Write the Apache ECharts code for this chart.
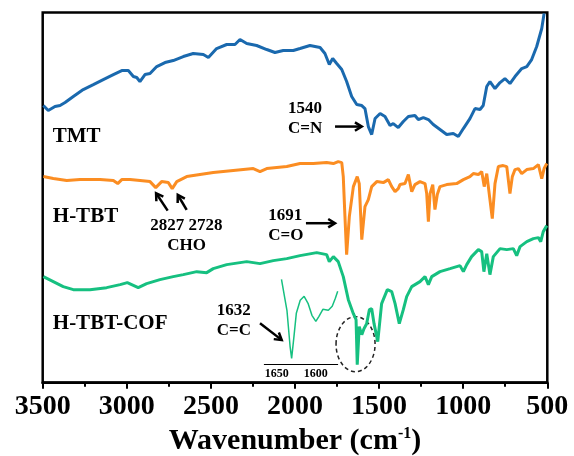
<!DOCTYPE html>
<html><head><meta charset="utf-8">
<script src="https://cdn.jsdelivr.net/npm/echarts@6/dist/echarts.min.js"></script>
<style>html,body{margin:0;padding:0;background:#fff}#c{width:574px;height:456px}</style>
</head><body><div id="c"></div>
<script>
// ---- data (wavenumber in cm-1, transmittance in arbitrary offset units) ----
const tmtWn = [3496,3467,3427,3397,3367,3318,3259,3199,3140,3080,3030,2991,2961,2941,2922,2892,2862,2822,2773,2724,2664,2605,2545,2515,2466,2406,2357,2327,2287,2228,2168,2119,2070,2010,1970,1911,1851,1822,1796,1776,1752,1722,1693,1663,1633,1603,1584,1564,1544,1524,1494,1465,1435,1416,1386,1356,1326,1287,1267,1237,1207,1178,1138,1098,1059,1029,999,960,930,900,881,860,841,811,781,752,722,692,652,622,593,563,533,519];
const tmtT  = [277,272,276,277,280,286,293,298,303,308,312,312,306,305,301,308,309,316,320,322,326,329,328,325,334,338,338,343,339,337,333,330,332,332,334,337,335,329,318,324,319,313,301,286,278,277,274,256,248,264,269,266,257,259,255,261,266,267,263,265,263,258,253,248,249,246,254,264,274,273,277,296,301,294,300,304,299,306,314,316,323,336,354,369];

const htbtWn = [3496,3437,3357,3278,3159,3080,3054,3030,2981,2921,2862,2828,2793,2753,2730,2703,2644,2565,2486,2367,2248,2208,2168,2049,1970,1891,1812,1772,1743,1722,1713,1703,1693,1677,1653,1630,1618,1603,1584,1564,1544,1514,1475,1445,1425,1405,1386,1376,1346,1326,1306,1287,1257,1227,1217,1207,1197,1181,1168,1154,1138,1098,1039,999,960,940,910,890,875,860,841,827,811,791,762,741,722,708,692,672,652,622,583,553,533,519,503];
const htbtT  = [206,204,202,203,203,202,199,203,203,202,201,195,201,200,194,201,206,208,210,212,214,211,214,216,219,219,220,219,221,220,206,166,128,166,196,206,199,143,176,183,196,201,200,203,196,191,194,198,199,208,191,198,201,199,189,161,189,198,173,188,196,198,199,203,206,209,208,211,196,209,183,164,199,216,217,216,189,206,213,214,209,213,214,218,204,214,219];

const cofWn = [3496,3437,3378,3318,3219,3120,3040,2997,2971,2932,2882,2803,2724,2664,2584,2525,2486,2406,2287,2208,2129,2049,1970,1871,1812,1796,1772,1743,1713,1683,1653,1637,1630,1618,1603,1590,1574,1558,1544,1530,1508,1485,1451,1425,1405,1380,1356,1336,1306,1257,1227,1207,1187,1138,1078,1019,999,979,950,910,890,877,860,841,821,781,741,702,682,662,622,583,553,539,524,503];
const cofT  = [106,101,96,93,93,95,98,100,98,95,99,103,106,108,111,110,114,118,121,119,122,124,127,130,128,121,126,121,106,83,69,63,18,56,48,54,59,73,74,59,41,79,93,91,79,59,73,86,96,101,106,98,106,111,114,117,111,118,126,133,131,111,129,108,126,134,133,134,127,136,141,144,145,141,151,157];

const insetWn = [1644,1637,1633,1631,1628,1625,1620,1615,1610,1605,1600,1596,1591,1584,1579,1575,1572];
const insetT  = [85,54,18,6,28,51,64,68,61,49,43,48,55,54,58,66,73];

const xTickLabels = [3500,3000,2500,2000,1500,1000,500];
const insetTickLabels = [1650,1600];
const seriesNames = ['TMT','H-TBT','H-TBT-COF'];

// annotation anchors in data coordinates [wavenumber, value]
const nameLabels = [
  {text:'TMT', at:[3440,246]},
  {text:'H-TBT', at:[3440,166]},
  {text:'H-TBT-COF', at:[3440,59]}
];
const peakTexts = [
  {text:'1540', at:[1940,274], align:'center'},
  {text:'C=N', at:[1940,254], align:'center'},
  {text:'2827 2728', at:[2646,157], align:'center'},
  {text:'CHO', at:[2644,137], align:'center'},
  {text:'1691', at:[2159,167], align:'left'},
  {text:'C=O', at:[2159,147], align:'left'},
  {text:'1632', at:[2465,72], align:'left'},
  {text:'C=C', at:[2465,52], align:'left'}
];
const arrows = [
  {from:[1762,256], to:[1603,256]},
  {from:[2757,172], to:[2826,189.4]},
  {from:[2644,172.7], to:[2697,187.7]},
  {from:[1935,159.4], to:[1762,159.4]},
  {from:[2208,59.4], to:[2079,42.7]}
];
const ellipseBox = {left:1756, right:1524, top:66, bottom:11};

const FONT = "'Liberation Serif','Times New Roman',serif";
const COLORS = ['#1a69ae','#fb8d22','#16c080'];

const chart = echarts.init(document.getElementById('c'), null, {renderer:'canvas'});
const pairs = (xs, ys) => xs.map((x,i)=>[x, ys[i]]);

const option = {
  animation:false,
  grid:[
    {left:42.7, top:12.5, right:26.7, bottom:73.3, show:true, borderColor:'#000', borderWidth:2.5, outerBoundsMode:'none', containLabel:false},
    {left:264.3, top:270, width:73.4, height:94.3, outerBoundsMode:'none', containLabel:false}
  ],
  xAxis:[
    {gridIndex:0, type:'value', inverse:true, min:500, max:3500, interval:500,
     axisLine:{show:true, onZero:false, lineStyle:{color:'#000', width:2.5}},
     axisTick:{show:true, length:6, lineStyle:{color:'#000', width:2}},
     minorTick:{show:true, splitNumber:2, length:4, lineStyle:{color:'#000', width:2}},
     splitLine:{show:false}, minorSplitLine:{show:false},
     axisLabel:{margin:10, color:'#000', fontFamily:FONT, fontWeight:'bold', fontSize:28,
       formatter: v => xTickLabels.indexOf(v) >= 0 ? String(v) : ''},
     name:'{a|Wavenumber (cm}{s|-1}{a|)}', nameLocation:'middle', nameGap:36,
     nameTextStyle:{rich:{
       a:{fontFamily:FONT, fontWeight:'bold', fontSize:30, color:'#000', lineHeight:32},
       s:{fontFamily:FONT, fontWeight:'bold', fontSize:16, color:'#000', lineHeight:16, verticalAlign:'top'}
     }}
    },
    {gridIndex:1, type:'value', inverse:true, min:1572, max:1666,
     axisLine:{show:true, onZero:false, lineStyle:{color:'#000', width:1}},
     axisTick:{show:false}, splitLine:{show:false},
     axisLabel:{customValues:insetTickLabels, formatter: v => String(v), margin:4, color:'#000', fontFamily:FONT, fontWeight:'bold', fontSize:12}
    }
  ],
  yAxis:[
    {gridIndex:0, type:'value', min:0, max:370, show:false, splitLine:{show:false}},
    {gridIndex:1, type:'value', min:0, max:94.3, show:false, splitLine:{show:false}}
  ],
  series:[
    {name:seriesNames[0], type:'line', xAxisIndex:0, yAxisIndex:0, data:pairs(tmtWn,tmtT), symbol:'none', lineStyle:{color:COLORS[0], width:3}},
    {name:seriesNames[1], type:'line', xAxisIndex:0, yAxisIndex:0, data:pairs(htbtWn,htbtT), symbol:'none', lineStyle:{color:COLORS[1], width:3}},
    {name:seriesNames[2], type:'line', xAxisIndex:0, yAxisIndex:0, data:pairs(cofWn,cofT), symbol:'none', lineStyle:{color:COLORS[2], width:3}},
    {name:seriesNames[2]+' inset', type:'line', xAxisIndex:1, yAxisIndex:1, data:pairs(insetWn,insetT), symbol:'none', lineStyle:{color:COLORS[2], width:1.5}}
  ]
};
chart.setOption(option);

const P = d => chart.convertToPixel({gridIndex:0}, d);
const g = [];
nameLabels.forEach(l => {
  const p = P(l.at);
  g.push({type:'text', silent:true, style:{text:l.text, x:p[0], y:p[1], fill:'#000',
    font:"bold 21px 'Liberation Serif'", align:'left', verticalAlign:'middle', textAlign:'left', textVerticalAlign:'middle'}});
});
peakTexts.forEach(l => {
  const p = P(l.at);
  g.push({type:'text', silent:true, style:{text:l.text, x:p[0], y:p[1], fill:'#000',
    font:"bold 17px 'Liberation Serif'", align:l.align, verticalAlign:'middle', textAlign:l.align, textVerticalAlign:'middle'}});
});
arrows.forEach(a => {
  const f = P(a.from), t = P(a.to);
  const dx = t[0]-f[0], dy = t[1]-f[1], L = Math.hypot(dx,dy);
  const ux = dx/L, uy = dy/L, hl = 8, ang = 0.55;
  const rot = (x,y,a)=>[x*Math.cos(a)-y*Math.sin(a), x*Math.sin(a)+y*Math.cos(a)];
  const r1 = rot(-ux*hl,-uy*hl, ang), r2 = rot(-ux*hl,-uy*hl,-ang);
  g.push({type:'line', silent:true, shape:{x1:f[0], y1:f[1], x2:t[0]-ux*1, y2:t[1]-uy*1}, style:{stroke:'#000', lineWidth:2.5}});
  g.push({type:'polyline', silent:true, shape:{points:[[t[0]+r1[0],t[1]+r1[1]],[t[0],t[1]],[t[0]+r2[0],t[1]+r2[1]]]},
    style:{stroke:'#000', lineWidth:2.5, fill:null, lineJoin:'miter'}});
});
(function(){
  const a = P([ellipseBox.left, ellipseBox.top]), b = P([ellipseBox.right, ellipseBox.bottom]);
  g.push({type:'ellipse', silent:true, shape:{cx:(a[0]+b[0])/2, cy:(a[1]+b[1])/2, rx:Math.abs(b[0]-a[0])/2, ry:Math.abs(b[1]-a[1])/2},
    style:{fill:null, stroke:'#222', lineWidth:1.5, lineDash:[4,3]}});
})();
chart.setOption({graphic:g});
</script>
</body></html>
